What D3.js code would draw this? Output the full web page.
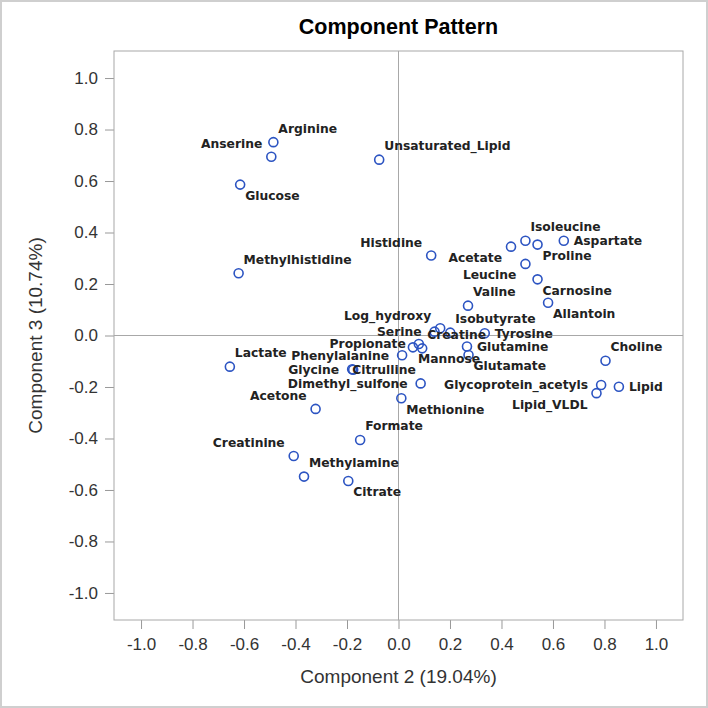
<!DOCTYPE html>
<html lang="en">
<head>
<meta charset="UTF-8">
<title>Component Pattern</title>
<style>
    body { margin: 0; background: #fff; }
    svg text { font-family: 'Liberation Sans', Arial, sans-serif; fill: #333; }
    .pt-label {
        font-family: 'DejaVu Sans', Verdana, sans-serif;
        font-weight: bold;
        font-size: 12.3px;
    }
    .tick text { font-size: 17px; }
    .tick line { stroke: #999; }
</style>
<script src="https://d3js.org/d3.v7.min.js"></script>
</head>
<body>
<svg id="chart" width="708" height="708"></svg>
<script>
    let names = ["Arginine", "Anserine", "Unsaturated_Lipid", "Glucose", "Methylhistidine",
        "Histidine", "Acetate", "Isoleucine", "Proline", "Aspartate", "Leucine", "Carnosine",
        "Allantoin", "Valine", "Log_hydroxy", "Serine", "Isobutyrate", "Tyrosine", "Creatine",
        "Propionate", "Mannose", "Phenylalanine", "Glutamine", "Glutamate", "Dimethyl_sulfone",
        "Glycine", "Citrulline", "Lactate", "Acetone", "Methionine", "Choline",
        "Glycoprotein_acetyls", "Lipid", "Lipid_VLDL", "Formate", "Creatinine", "Methylamine", "Citrate"];
    let comp2 = [-0.486, -0.494, -0.075, -0.615, -0.621,
        0.127, 0.437, 0.493, 0.540, 0.642, 0.493, 0.540,
        0.581, 0.270, 0.162, 0.140, 0.201, 0.335, 0.092,
        0.079, 0.056, 0.014, 0.266, 0.272, 0.086,
        -0.180, -0.176, -0.655, -0.322, 0.011, 0.804,
        0.787, 0.856, 0.769, -0.149, -0.407, -0.367, -0.195];
    let comp3 = [0.751, 0.694, 0.683, 0.586, 0.242,
        0.311, 0.345, 0.368, 0.353, 0.368, 0.278, 0.218,
        0.127, 0.116, 0.028, 0.015, 0.011, 0.009, -0.050,
        -0.033, -0.046, -0.077, -0.043, -0.076, -0.186,
        -0.131, -0.133, -0.121, -0.285, -0.244, -0.098,
        -0.192, -0.199, -0.224, -0.406, -0.468, -0.548, -0.565];
    // where each label sits around its marker
    let placement = ["ne", "nw", "ne", "se", "ne",
        "nw", "sw", "ne", "se", "e", "sw", "se",
        "se", "ne", "nw", "w", "ne", "e", "ne",
        "w", "se", "w", "e", "se", "w",
        "w", "ec", "ne", "nw", "se", "ne",
        "w", "e", "sw", "ne", "nw", "ne", "se"];
    let tickValues = [-1.0, -0.8, -0.6, -0.4, -0.2, 0.0, 0.2, 0.4, 0.6, 0.8, 1.0];
    let tickLabels = ["-1.0", "-0.8", "-0.6", "-0.4", "-0.2", "0.0", "0.2", "0.4", "0.6", "0.8", "1.0"];

    let offsets = {
        ne: [5, -14, "start"], se: [5, 11, "start"],
        nw: [-9, -13, "end"], sw: [-9, 11, "end"],
        e: [10, 0, "start"], ec: [-1, 0, "start"], w: [-13, 0, "end"]
    };

    let margin = {top: 51, right: 25, bottom: 88, left: 114},
        width = 708 - margin.left - margin.right,
        height = 708 - margin.top - margin.bottom;

    let root = d3.select("#chart");

    root.append("rect")
        .attr("x", 1).attr("y", 1)
        .attr("width", 706).attr("height", 706)
        .attr("fill", "#fff")
        .attr("stroke", "#cfcfcf")
        .attr("stroke-width", 2);

    let svg = root.append("g")
        .attr("transform", "translate(" + margin.left + "," + margin.top + ")");

    let x = d3.scaleLinear().domain([-1.105, 1.105]).range([0, width]);
    let y = d3.scaleLinear().domain([-1.105, 1.105]).range([height, 0]);

    let fmt = d => tickLabels[tickValues.indexOf(d)];

    svg.append("g")
        .attr("transform", "translate(0," + height + ")")
        .call(d3.axisBottom(x).tickValues(tickValues).tickFormat(fmt)
            .tickSize(9).tickPadding(9).tickSizeOuter(0))
        .call(g => g.select(".domain").remove());

    svg.append("g")
        .call(d3.axisLeft(y).tickValues(tickValues).tickFormat(fmt)
            .tickSize(9).tickPadding(7).tickSizeOuter(0))
        .call(g => g.select(".domain").remove());

    // reference lines at zero
    svg.append("line")
        .attr("x1", x(0)).attr("x2", x(0))
        .attr("y1", 0).attr("y2", height)
        .attr("stroke", "#a8a8a8");
    svg.append("line")
        .attr("x1", 0).attr("x2", width)
        .attr("y1", y(0)).attr("y2", y(0))
        .attr("stroke", "#a8a8a8");

    svg.append("rect")
        .attr("width", width).attr("height", height)
        .attr("fill", "none")
        .attr("stroke", "#a8a8a8");

    let pts = names.map((n, i) => ({name: n, x: comp2[i], y: comp3[i], pos: placement[i]}));

    svg.selectAll(".pt")
        .data(pts)
        .enter()
        .append("circle")
        .attr("class", "pt")
        .attr("cx", d => x(d.x))
        .attr("cy", d => y(d.y))
        .attr("r", 4.5)
        .attr("fill", "none")
        .attr("stroke", "#2c54c2")
        .attr("stroke-width", 1.6);

    svg.selectAll(".pt-label")
        .data(pts)
        .enter()
        .append("text")
        .attr("class", "pt-label")
        .attr("x", d => x(d.x) + offsets[d.pos][0])
        .attr("y", d => y(d.y) + offsets[d.pos][1])
        .attr("dy", "0.36em")
        .attr("text-anchor", d => offsets[d.pos][2])
        .style("fill", "#222")
        .text(d => d.name);

    root.append("text")
        .attr("x", margin.left + x(0))
        .attr("y", 34)
        .attr("text-anchor", "middle")
        .style("font-size", "21.5px")
        .style("font-weight", "bold")
        .style("fill", "#000")
        .text("Component Pattern");

    root.append("text")
        .attr("x", margin.left + x(0))
        .attr("y", 683)
        .attr("text-anchor", "middle")
        .style("font-size", "19px")
        .text("Component 2 (19.04%)");

    root.append("text")
        .attr("transform", "translate(42," + (margin.top + y(0)) + ") rotate(-90)")
        .attr("text-anchor", "middle")
        .style("font-size", "19px")
        .text("Component 3 (10.74%)");
</script>
</body>
</html>
